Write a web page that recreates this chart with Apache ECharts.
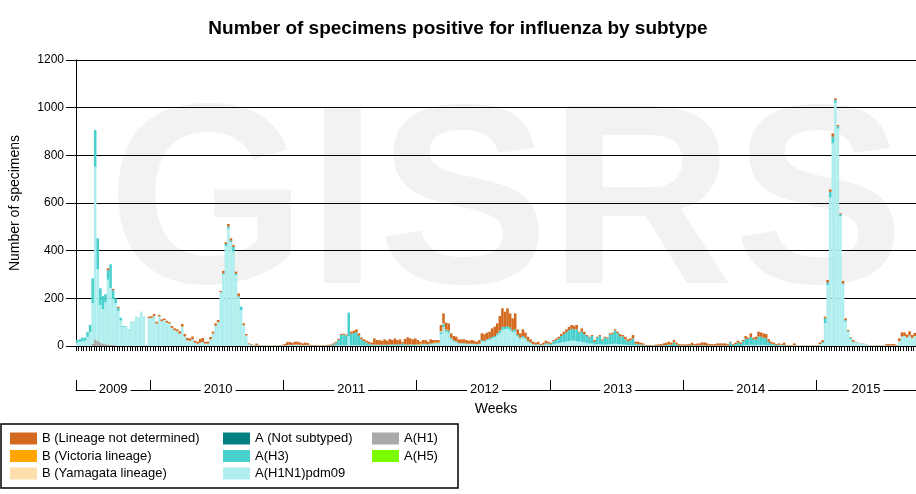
<!DOCTYPE html>
<html>
<head>
<meta charset="utf-8">
<title>Number of specimens positive for influenza by subtype</title>
<script src="https://cdn.jsdelivr.net/npm/echarts@6/dist/echarts.min.js"></script>
<style>
  html, body { margin: 0; padding: 0; background: #fff; }
  #chart { width: 916px; height: 494px; }
</style>
</head>
<body>
<div id="chart"></div>
<script>
const FONT = '"Liberation Sans", Arial, sans-serif';

// weeks shown per year: [year, first week, last week]
const yearSpans = [
  [2009, 25, 53], [2010, 1, 52], [2011, 1, 52], [2012, 1, 52],
  [2013, 1, 52], [2014, 1, 52], [2015, 1, 39]
];

// A(H1): only seen in 2009
const aH1 = [0,0,0,0,0,0,10,28,22,15,10,8,6,5,4,3,0,0,0,0,0,0,0,0,0,0,0,3,0];

const aH1N1pdm09 = [
  // 2009
  15,18,20,22,38,58,170,724,300,157,145,175,272,238,193,177,147,107,80,82,68,100,100,121,121,145,125,0,117,
  // 2010
  118,126,94,124,104,109,98,94,76,66,62,52,80,40,24,22,28,14,10,14,16,10,10,28,52,85,100,226,300,420,
  494,436,396,298,203,150,87,44,8,5,3,3,2,2,2,2,2,1,2,2,2,3,
  // 2011
  2,4,5,4,6,6,5,3,4,4,2,2,2,1,1,2,2,0,0,0,2,3,4,4,4,40,4,4,4,3,
  2,2,2,2,2,2,2,2,2,2,2,2,2,2,2,2,2,2,2,2,2,2,
  // 2012
  4,4,6,6,5,8,8,10,10,50,80,60,55,30,20,16,10,10,10,8,8,8,7,6,8,20,18,24,26,32,
  36,45,55,68,70,72,68,58,60,40,30,36,30,18,12,6,4,6,3,4,6,5,
  // 2013
  4,8,10,12,14,16,18,20,22,22,20,18,18,15,12,10,10,6,8,8,6,6,6,8,8,10,8,8,6,6,
  4,4,4,2,2,2,2,0,0,0,0,0,0,0,0,0,0,0,0,0,0,0,
  // 2014
  0,0,0,0,0,0,0,0,0,0,0,0,0,0,0,0,0,0,0,0,0,0,0,2,4,4,5,4,4,5,
  5,5,4,3,2,2,1,2,2,2,2,2,2,3,2,2,2,2,2,2,2,2,
  // 2015
  2,8,12,96,256,623,850,1020,912,545,258,102,60,28,16,16,13,10,10,5,
  3,2,2,2,2,2,2,2,2,2,2,2,20,40,42,36,44,34,42
];

const aH3 = [
  // 2009
  10,10,15,13,20,30,104,154,130,70,55,34,40,100,36,20,12,12,4,2,2,2,2,2,0,0,0,0,0,
  // 2010
  0,0,0,0,0,0,0,0,0,0,0,0,0,0,0,0,0,0,0,0,0,0,0,0,0,0,0,0,5,8,
  8,6,20,6,6,15,0,0,0,0,0,0,0,0,0,0,0,0,0,0,0,0,
  // 2011
  0,0,0,0,0,0,0,0,0,0,0,0,0,0,0,0,0,2,3,6,12,22,42,44,40,100,48,50,54,40,
  26,18,12,8,4,4,4,3,3,4,3,4,5,5,4,5,8,5,4,4,5,4,
  // 2012
  2,2,3,3,2,3,3,3,3,8,12,8,8,5,4,3,3,2,2,2,2,2,2,2,2,5,4,4,6,6,
  6,8,10,12,10,12,10,8,10,6,5,6,5,4,3,2,2,2,1,2,6,5,
  // 2013
  6,12,16,20,28,34,40,46,50,48,50,38,42,35,30,25,32,12,27,34,18,29,26,40,43,55,46,32,34,22,
  16,20,28,8,6,4,3,2,2,2,2,2,2,2,3,4,6,5,15,6,2,2,
  // 2014
  2,2,2,4,2,2,3,3,3,2,2,2,2,2,2,2,2,2,14,4,8,14,9,18,26,26,32,25,23,35,
  34,30,28,14,8,6,3,3,2,2,0,0,0,0,0,0,0,0,0,0,0,0,
  // 2015
  0,0,5,20,10,24,28,12,10,8,5,6,3,6,2,0,0,0,0,0,
  0,0,0,0,0,0,0,0,0,0,0,0,0,0,0,0,0,0,0
];

// no A(H5) and no unsubtyped A visible in the period
const aH5 = [];
const aNotSubtyped = [];

// small B lineage counts, by week
const bVictoriaWeeks = [
  ['2010-W13', 2], ['2011-W50', 2], ['2012-W1', 2], ['2012-W2', 4], ['2012-W7', 2],
  ['2012-W8', 3], ['2012-W9', 2], ['2012-W12', 2], ['2012-W13', 2]
];
const bYamagataWeeks = [['2012-W10', 4], ['2012-W11', 3]];

const bNotDetermined = [
  // 2009
  0,0,0,0,0,0,0,0,0,0,0,0,8,0,6,0,5,0,0,0,0,0,0,0,0,0,0,0,6,
  // 2010
  7,8,8,6,8,6,8,6,8,8,8,10,10,10,10,10,12,8,8,16,18,8,8,10,8,10,9,5,10,7,
  10,10,8,8,12,0,8,6,3,3,1,7,2,1,1,1,1,1,1,1,2,2,
  // 2011
  6,12,12,10,12,12,10,8,10,8,3,2,2,2,2,2,2,3,3,5,4,5,4,4,4,0,8,10,12,10,
  8,8,8,8,8,26,19,20,17,22,17,23,18,25,19,21,7,23,30,24,21,26,
  // 2012
  17,8,16,16,11,17,12,9,10,26,42,28,30,18,18,20,15,16,16,15,12,15,13,10,15,28,28,28,28,36,
  39,42,61,78,64,74,59,50,67,24,18,28,21,17,13,10,8,10,4,8,10,8,
  // 2013
  4,5,6,7,8,10,12,14,16,15,18,4,14,10,4,4,4,7,4,4,4,4,4,5,5,5,6,10,6,11,
  8,8,14,8,10,8,6,2,2,2,2,4,5,6,8,10,12,9,10,8,6,5,
  // 2014
  5,5,6,10,6,8,8,12,12,9,6,6,6,9,9,9,9,6,4,4,6,8,6,5,12,5,16,6,12,20,
  18,18,18,12,8,6,4,6,3,10,2,2,2,8,1,1,1,1,1,1,1,1,
  // 2015
  2,7,8,7,11,10,14,7,5,4,10,8,4,2,7,2,1,1,1,1,
  1,1,1,1,1,1,1,6,6,6,6,2,12,17,15,12,18,12,13
];

const yTicks = { min: 0, max: 1200, step: 200 };

// week categories and year boundaries
const weeks = [];
const yearStarts = new Set();
const yearMids = new Set();
yearSpans.forEach(([year, first, last]) => {
  const start = weeks.length;
  for (let w = first; w <= last; w++) weeks.push(year + '-W' + w);
  yearStarts.add(start);
  yearMids.add(start + Math.floor((last - first + 1) / 2));
});

const byWeek = (pairs) => {
  const m = new Map(pairs);
  return weeks.map((w) => m.get(w) || 0);
};

const seriesDefs = [
  { name: 'A(H1)', color: '#A9A9A9', data: aH1 },
  { name: 'A(H1N1)pdm09', color: '#AFEEEE', data: aH1N1pdm09 },
  { name: 'A(H3)', color: '#48D1CC', data: aH3 },
  { name: 'A(H5)', color: '#7CFC00', data: aH5 },
  { name: 'A (Not subtyped)', color: '#008080', data: aNotSubtyped },
  { name: 'B (Yamagata lineage)', color: '#FFDEAD', data: byWeek(bYamagataWeeks) },
  { name: 'B (Victoria lineage)', color: '#FFA500', data: byWeek(bVictoriaWeeks) },
  { name: 'B (Lineage not determined)', color: '#D2691E', data: bNotDetermined }
];

const legendCommon = {
  orient: 'vertical',
  top: 432,
  padding: 0,
  icon: 'rect',
  itemWidth: 27,
  itemHeight: 12,
  itemGap: 4.5,
  selectedMode: false,
  textStyle: { fontSize: 13, color: '#000', fontFamily: FONT }
};

const myChart = echarts.init(document.getElementById('chart'));

const option = {
  animation: false,
  backgroundColor: '#fff',
  textStyle: { fontFamily: FONT },
  title: {
    text: 'Number of specimens positive for influenza by subtype',
    left: 'center',
    top: 14,
    textStyle: { fontSize: 19, fontWeight: 'bold', color: '#000', fontFamily: FONT }
  },
  graphic: [
    {
      type: 'text',
      z: -10,
      silent: true,
      x: 506,
      y: 212,
      style: {
        text: 'GISRS',
        fill: '#f2f2f2',
        font: 'bold 256px "Liberation Sans", Arial, sans-serif',
        align: 'center',
        verticalAlign: 'middle'
      }
    },
    {
      type: 'rect',
      silent: true,
      shape: { x: 1, y: 424, width: 457, height: 64 },
      style: { fill: 'none', stroke: '#000', lineWidth: 1.5 }
    }
  ],
  legend: [
    Object.assign({ left: 10, data: ['B (Lineage not determined)', 'B (Victoria lineage)', 'B (Yamagata lineage)'] }, legendCommon),
    Object.assign({ left: 223, data: ['A (Not subtyped)', 'A(H3)', 'A(H1N1)pdm09'] }, legendCommon),
    Object.assign({ left: 372, data: ['A(H1)', 'A(H5)'] }, legendCommon)
  ],
  grid: { left: 75, right: 0, top: 60, bottom: 148 },
  xAxis: [
    {
      type: 'category',
      data: weeks,
      axisLine: { show: true, lineStyle: { color: '#000', width: 1 } },
      axisTick: { show: true, interval: 0, length: 5, lineStyle: { color: '#000', width: 1 } },
      axisLabel: { show: false }
    },
    {
      type: 'category',
      data: weeks,
      position: 'bottom',
      offset: 44,
      axisLine: { show: true, lineStyle: { color: '#000', width: 1 } },
      axisTick: {
        show: true,
        interval: (i) => yearStarts.has(i),
        inside: true,
        length: 10,
        lineStyle: { color: '#000', width: 1 }
      },
      axisLabel: {
        show: true,
        interval: (i) => yearMids.has(i),
        formatter: (v) => v.slice(0, 4),
        margin: -7,
        backgroundColor: '#fff',
        padding: [0, 3],
        color: '#000',
        fontSize: 13,
        fontFamily: FONT
      },
      name: 'Weeks',
      nameLocation: 'middle',
      nameGap: 12,
      nameTextStyle: { fontSize: 14, color: '#000', fontFamily: FONT }
    }
  ],
  yAxis: {
    type: 'value',
    min: yTicks.min,
    max: yTicks.max,
    interval: yTicks.step,
    axisLine: { show: true, lineStyle: { color: '#000' } },
    axisTick: { show: true, length: 10, lineStyle: { color: '#000' } },
    axisLabel: { color: '#000', fontSize: 12, margin: 12, fontFamily: FONT, formatter: (v) => String(v) },
    splitLine: { show: true, lineStyle: { color: '#000', width: 1 } },
    name: 'Number of specimens',
    nameLocation: 'middle',
    nameRotate: 90,
    nameGap: 54,
    nameTextStyle: { fontSize: 14, color: '#000', fontFamily: FONT }
  },
  series: seriesDefs.map((s) => ({
    name: s.name,
    type: 'bar',
    stack: 'total',
    barCategoryGap: '0%',
    itemStyle: { color: s.color },
    data: s.data
  }))
};

myChart.setOption(option);
</script>
</body>
</html>
